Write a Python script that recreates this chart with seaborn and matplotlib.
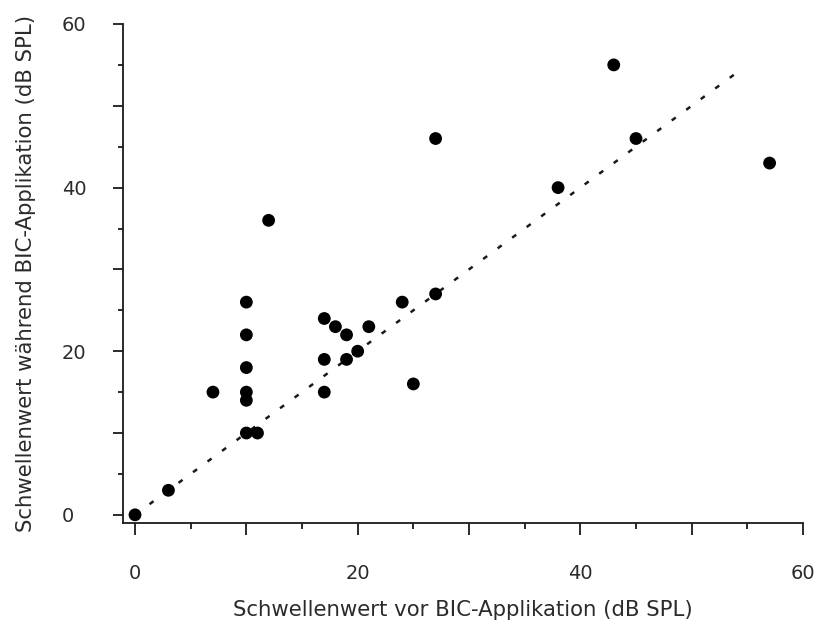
import matplotlib
matplotlib.use("Agg")
import matplotlib.pyplot as plt
from matplotlib.ticker import MultipleLocator
import seaborn as sns
import pandas as pd

# Hearing thresholds before vs. during BIC application (dB SPL)
schwelle_vor = [0, 3, 7, 10, 10, 10, 10, 10, 10, 11, 12, 17, 18, 19, 21,
                17, 19, 20, 17, 24, 25, 27, 27, 38, 43, 45, 57]
schwelle_waehrend = [0, 3, 15, 26, 22, 18, 15, 14, 10, 10, 36, 24, 23, 22, 23,
                     19, 19, 20, 15, 26, 16, 27, 46, 40, 55, 46, 43]

# Line of identity (no threshold shift)
ident_x = [0, 54.5]
ident_y = [0, 54.5]

major_ticks = [0, 10, 20, 30, 40, 50, 60]
tick_labels = ["0", "", "20", "", "40", "", "60"]

df = pd.DataFrame({"vor": schwelle_vor, "waehrend": schwelle_waehrend})
ident = pd.DataFrame({"x": ident_x, "y": ident_y})

sns.set_theme(style="white")
plt.rcParams["font.family"] = ["DejaVu Sans"]

W, H = 814, 628
fig = plt.figure(figsize=(W / 100, H / 100), dpi=100)
ax = fig.add_axes([123 / W, (H - 523) / H, (803 - 123) / W, (523 - 24) / H])

ink = "#1a1a1a"
txt = "#2b2b2b"

sns.lineplot(data=ident, x="x", y="y", ax=ax, color=ink, lw=1.8,
             linestyle=(0, (2.0, 5.2)), sort=False)
sns.scatterplot(data=df, x="vor", y="waehrend", ax=ax, color="black",
                s=85, edgecolor="none", zorder=3, clip_on=False)

ax.set_xlim(-1.08, 60)
ax.set_ylim(-1.0, 60)
ax.set_xticks(major_ticks, tick_labels)
ax.set_yticks(major_ticks, tick_labels)
ax.xaxis.set_minor_locator(MultipleLocator(5))
ax.yaxis.set_minor_locator(MultipleLocator(5))

for side in ("top", "right"):
    ax.spines[side].set_visible(False)
for side in ("left", "bottom"):
    ax.spines[side].set_color(ink)
    ax.spines[side].set_linewidth(1.3)

ax.tick_params(axis="x", which="major", direction="out", length=8.5, width=1.3,
               color=ink, labelsize=14, labelcolor=txt, pad=21, bottom=True)
ax.tick_params(axis="x", which="minor", direction="out", length=4.5, width=1.3,
               color=ink, bottom=True)
ax.tick_params(axis="y", which="major", direction="out", length=7.2, width=1.3,
               color=ink, labelsize=14, labelcolor=txt, pad=36.7, left=True)
ax.tick_params(axis="y", which="minor", direction="out", length=3.6, width=1.3,
               color=ink, left=True)
for lbl in ax.get_yticklabels():
    lbl.set_horizontalalignment("left")

ax.set_xlabel("Schwellenwert vor BIC-Applikation (dB SPL)", fontsize=15.3, color=txt)
ax.set_ylabel("Schwellenwert während BIC-Applikation (dB SPL)", fontsize=15.3, color=txt)
ax.xaxis.set_label_coords(0.5, (523 - 600) / (523 - 24))
ax.yaxis.set_label_coords((36 - 123) / (803 - 123), 0.5)

fig.savefig("out.png", dpi=100)
